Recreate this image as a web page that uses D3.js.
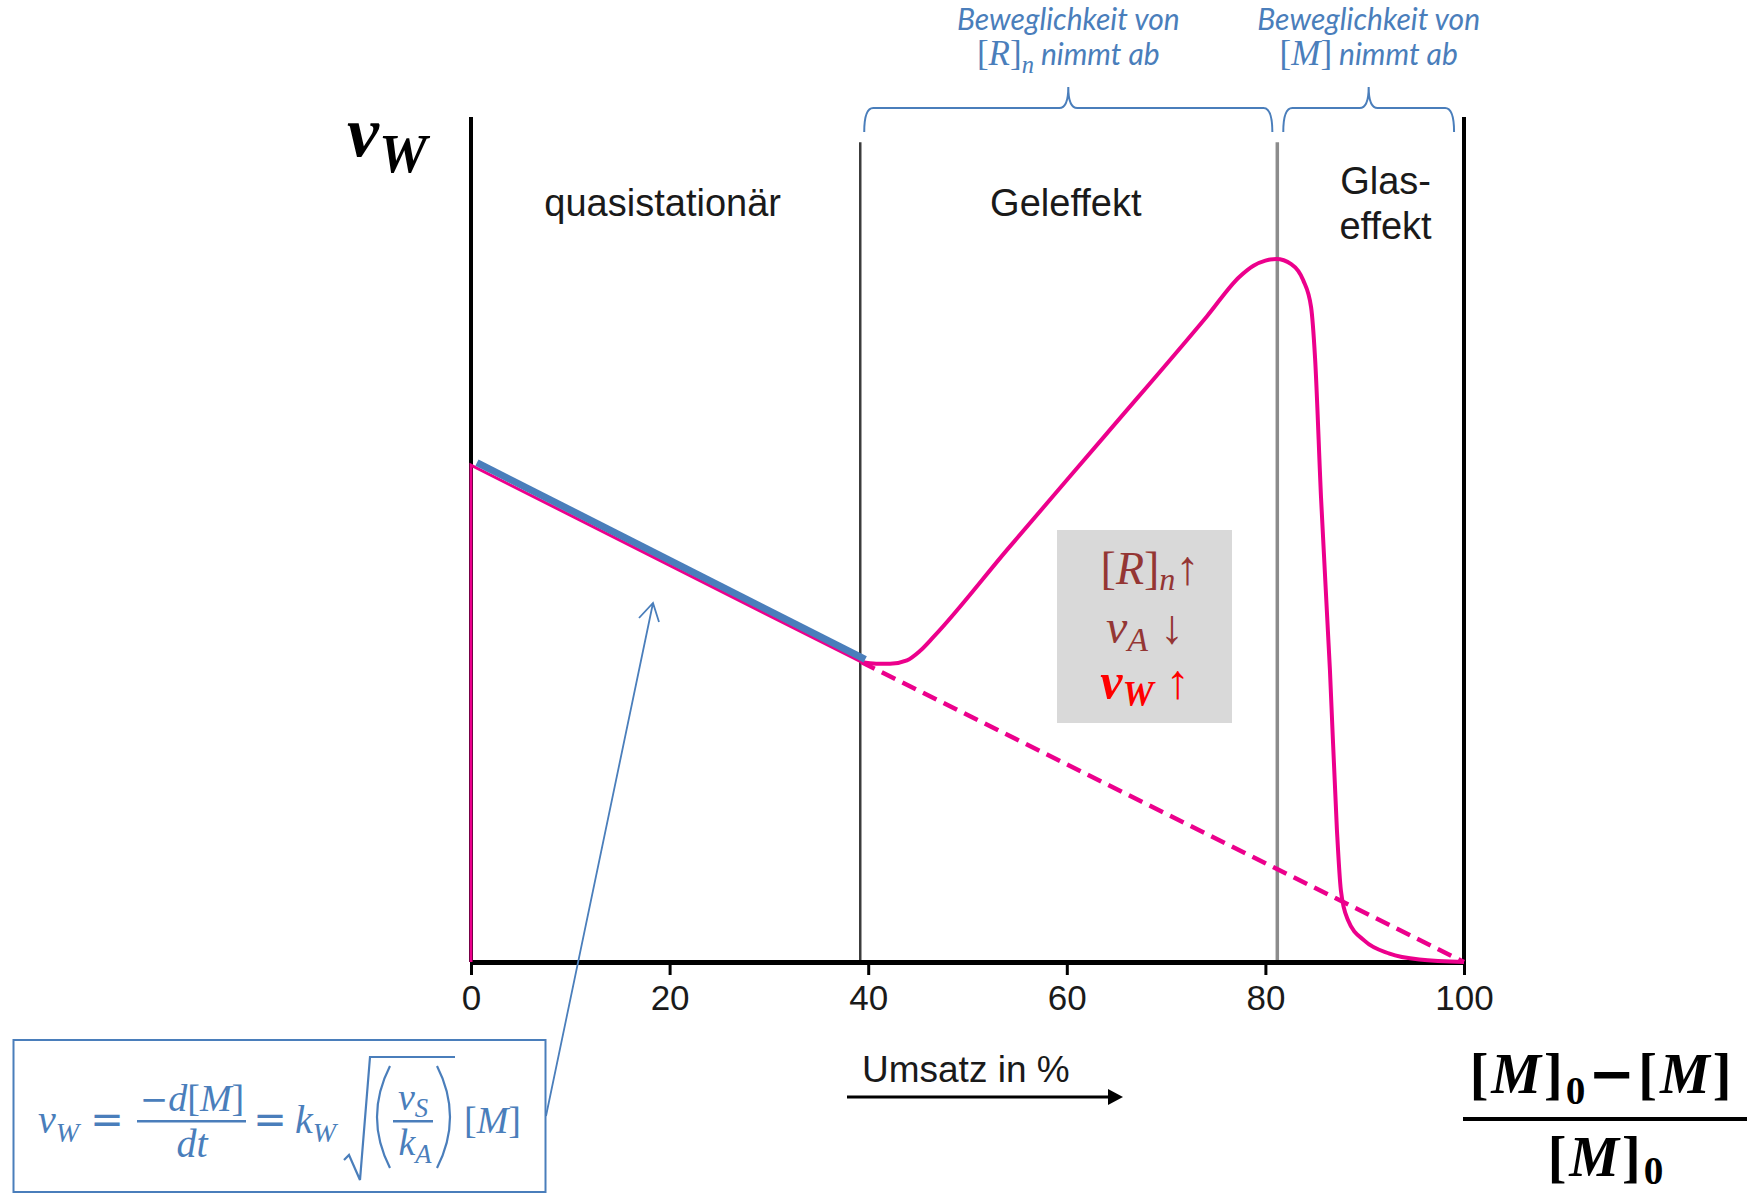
<!DOCTYPE html>
<html>
<head>
<meta charset="utf-8">
<script src="https://cdn.jsdelivr.net/npm/d3@7"></script>
<style>
body { margin: 0; background: #fff; }
</style>
</head>
<body>
<div id="chart"></div>
<script>
// values: x = Umsatz in %, y = reaction rate v_W (relative units, 0..100)
const xTicks = [0, 20, 40, 60, 80, 100];
const phaseBounds = [39.2, 81.2];
const phaseNames = [["quasistationär"], ["Geleffekt"], ["Glas-", "effekt"]];

// pink curve: start jump and quasistationary straight part
const rateStart = [[0, 0], [0, 58.8], [39.3, 35.5]];
// pink curve: gel effect and glass effect
const rateGel = [[39.3, 35.5], [40.8, 35.3], [42.2, 35.3], [43.9, 35.7], [45.2, 36.8], [46.6, 38.5],
  [54.0, 48.8], [64.0, 62.5], [74.1, 76.4], [77.4, 81.1], [78.8, 82.4], [80.0, 83.0], [81.1, 83.2], [82.6, 82.6],
  [83.8, 80.7], [84.6, 77.5], [85.0, 71.5], [85.6, 55.0], [86.5, 34.5], [87.2, 15.7], [87.6, 8.5],
  [88.3, 5.0], [90.0, 2.5], [92.5, 1.0], [95.5, 0.3], [100, 0]];
// dashed continuation without gel effect
const rateIdeal = [[39.3, 35.5], [100, 0]];
// blue highlighted part (formula valid)
const rateFit = [[0.6, 59.1], [39.7, 35.8]];

const mathFont = "'Liberation Serif', 'DejaVu Serif', serif";
const sansFont = "'Liberation Sans', Arial, sans-serif";
const noteFont = "Lato, 'Open Sans', sans-serif";
const blue = "#4a7ebb", pink = "#ec008c", darkRed = "#943634";

const svg = d3.select("#chart").append("svg")
  .attr("width", 1750)
  .attr("height", 1196);

const x = d3.scaleLinear().domain([0, 100]).range([471, 1464]);
const y = d3.scaleLinear().domain([0, 100]).range([962, 117]);

// text made of pieces (italic, subscripts...) in one <text>
function mathText(g, px, py, anchor, size, parts, attrs, subShift) {
  const t = g.append("text")
    .attr("x", px).attr("y", py)
    .attr("text-anchor", anchor)
    .attr("font-family", mathFont)
    .attr("font-size", size);
  Object.entries(attrs || {}).forEach(([k, v]) => t.attr(k, v));
  let shift = 0;
  parts.forEach(p => {
    const target = p.sub ? size * (subShift || 0.28) : 0;
    const ts = t.append("tspan").text(p.t)
      .attr("dy", target - shift)
      .attr("font-size", p.sub ? size * 0.7 : size);
    if (p.it) ts.attr("font-style", "italic");
    if (p.font) ts.attr("font-family", p.font);
    if (p.fs) ts.attr("font-size", p.fs);
    if (p.thin) ts.attr("font-weight", "normal");
    shift = target;
  });
  return t;
}

// phase separators
svg.selectAll(".phase").data(phaseBounds).join("line")
  .attr("class", "phase")
  .attr("x1", d => x(d)).attr("x2", d => x(d))
  .attr("y1", y(97)).attr("y2", y(0))
  .attr("stroke", (d, i) => i == 0 ? "#3c3c3c" : "#8c8c8c")
  .attr("stroke-width", (d, i) => i == 0 ? 2.5 : 3.5);

// left and right frame
svg.selectAll(".frame").data([0, 100]).join("line")
  .attr("class", "frame")
  .attr("x1", d => x(d)).attr("x2", d => x(d))
  .attr("y1", y(100)).attr("y2", y(0))
  .attr("stroke", "#000")
  .attr("stroke-width", 4);

// X axis
const xAxis = svg.append("g")
  .attr("transform", `translate(0,${y(0)})`)
  .call(d3.axisBottom(x).tickValues(xTicks).tickSize(13).tickSizeOuter(0).tickPadding(10));
xAxis.select(".domain").attr("stroke", "#000").attr("stroke-width", 5);
xAxis.selectAll(".tick line").attr("stroke", "#000").attr("stroke-width", 3);
xAxis.selectAll(".tick text")
  .attr("font-family", sansFont)
  .attr("font-size", 35)
  .attr("fill", "#1a1a1a");

// phase names, centred in each phase
const edges = [0, ...phaseBounds, 100];
phaseNames.forEach((lines, i) => {
  const cx = x((edges[i] + edges[i + 1]) / 2 + (i == 2 ? 1.5 : -0.3));
  const t = svg.append("text")
    .attr("text-anchor", "middle")
    .attr("font-family", sansFont)
    .attr("font-size", 38)
    .attr("fill", "#1a1a1a");
  lines.forEach((s, j) => {
    t.append("tspan").attr("x", cx).attr("y", 216 - (lines.length - 1) * 22 + j * 45).text(s);
  });
});

const line = d3.line().x(d => x(d[0])).y(d => y(d[1]));

// dashed pink
svg.append("path")
  .datum(rateIdeal)
  .attr("fill", "none")
  .attr("stroke", pink)
  .attr("stroke-width", 4.5)
  .attr("stroke-dasharray", "15,8")
  .attr("d", line);

// pink start
svg.append("path")
  .datum(rateStart)
  .attr("fill", "none")
  .attr("stroke", pink)
  .attr("stroke-width", 3)
  .attr("d", line);

// pink gel / glass effect
svg.append("path")
  .datum(rateGel)
  .attr("fill", "none")
  .attr("stroke", pink)
  .attr("stroke-width", 4)
  .attr("d", d3.line().x(d => x(d[0])).y(d => y(d[1])).curve(d3.curveMonotoneX));

// blue highlight
svg.append("path")
  .datum(rateFit)
  .attr("fill", "none")
  .attr("stroke", blue)
  .attr("stroke-width", 7)
  .attr("d", line);

// v_W label on the y axis
mathText(svg, 347, 156, "start", 72, [
  {t: "v", it: true}, {t: "W", it: true, sub: true, fs: 54}
], {"font-weight": "bold", fill: "#000"}, 0.22);

// gray box
svg.append("rect")
  .attr("x", 1057).attr("y", 530)
  .attr("width", 175).attr("height", 193)
  .attr("fill", "#d9d9d9");
mathText(svg, 1150, 584, "middle", 46, [
  {t: "["}, {t: "R", it: true}, {t: "]"}, {t: "n", it: true, sub: true},
  {t: "↑", fs: 48}
], {fill: darkRed}, 0.14);
mathText(svg, 1145, 643, "middle", 48, [
  {t: "v", it: true}, {t: "A", it: true, sub: true}, {t: " ↓", fs: 48}
], {fill: darkRed}, 0.16);
mathText(svg, 1145, 698, "middle", 50, [
  {t: "v", it: true}, {t: "W", it: true, sub: true}, {t: " ↑", fs: 48, thin: true}
], {fill: "#ff0000", "font-weight": "bold"}, 0.16);

// braces and notes on top
const braces = [[phaseBounds[0] + 0.4, phaseBounds[1] - 0.5], [phaseBounds[1] + 0.6, 99]];
const notes = [
  [{t: "["}, {t: "R", it: true}, {t: "]"}, {t: "n", it: true, sub: true}, {t: " nimmt ab", it: true, font: noteFont, fs: 30}],
  [{t: "["}, {t: "M", it: true}, {t: "]"}, {t: " nimmt ab", it: true, font: noteFont, fs: 30}]
];
braces.forEach((b, i) => {
  const x0 = x(b[0]), x1 = x(b[1]), xm = (x0 + x1) / 2;
  const yb = 132, yh = 108, yt = 87;
  svg.append("path")
    .attr("fill", "none")
    .attr("stroke", blue)
    .attr("stroke-width", 2)
    .attr("d", `M${x0},${yb} Q${x0},${yh} ${x0 + 9},${yh} L${xm - 9},${yh} Q${xm},${yh} ${xm},${yt}` +
      ` Q${xm},${yh} ${xm + 9},${yh} L${x1 - 9},${yh} Q${x1},${yh} ${x1},${yb}`);
  svg.append("text")
    .attr("x", xm).attr("y", 30)
    .attr("text-anchor", "middle")
    .attr("font-family", noteFont)
    .attr("font-style", "italic")
    .attr("font-size", 30)
    .attr("fill", blue)
    .text("Beweglichkeit von");
  mathText(svg, xm, 65, "middle", 35, notes[i], {fill: blue}, 0.22);
});

// formula box with pointer
const fg = svg.append("g").attr("fill", blue);
fg.append("rect")
  .attr("x", 13.5).attr("y", 1040)
  .attr("width", 532).attr("height", 152)
  .attr("fill", "none")
  .attr("stroke", blue)
  .attr("stroke-width", 2);
svg.append("path")
  .attr("fill", "none")
  .attr("stroke", blue)
  .attr("stroke-width", 1.8)
  .attr("d", "M546,1116 L653,603 M639,618 L653,603 L659,622");

mathText(fg, 38, 1133, "start", 40, [{t: "v", it: true}, {t: "W", it: true, sub: true}], {}, 0.22);
fg.append("text").attr("x", 107).attr("y", 1133).attr("text-anchor", "middle")
  .attr("font-family", "'DejaVu Sans', sans-serif").attr("font-size", 40).text("=");
mathText(fg, 192, 1111, "middle", 38, [{t: "−", font: "'DejaVu Sans', sans-serif", fs: 34}, {t: "d", it: true}, {t: "["}, {t: "M", it: true}, {t: "]"}]);
fg.append("rect").attr("x", 137).attr("y", 1120).attr("width", 109).attr("height", 2.5);
mathText(fg, 192, 1157, "middle", 40, [{t: "dt", it: true}]);
fg.append("text").attr("x", 270).attr("y", 1133).attr("text-anchor", "middle")
  .attr("font-family", "'DejaVu Sans', sans-serif").attr("font-size", 40).text("=");
mathText(fg, 295, 1133, "start", 40, [{t: "k", it: true}, {t: "W", it: true, sub: true}], {}, 0.22);
svg.append("path")
  .attr("fill", "none").attr("stroke", blue).attr("stroke-width", 2.2)
  .attr("d", "M344,1160 L349,1155 L360,1180 L370,1057 L455,1057" +
    " M390,1066 Q364,1117 390,1168 M437,1066 Q463,1117 437,1168");
mathText(fg, 413, 1110, "middle", 38, [{t: "v", it: true}, {t: "S", it: true, sub: true}], {}, 0.18);
fg.append("rect").attr("x", 393).attr("y", 1120).attr("width", 40).attr("height", 2.5);
mathText(fg, 415, 1155, "middle", 38, [{t: "k", it: true}, {t: "A", it: true, sub: true}], {}, 0.2);
mathText(fg, 464, 1133, "start", 38, [{t: "["}, {t: "M", it: true}, {t: "]"}]);

// x axis caption with arrow
svg.append("text")
  .attr("x", 862).attr("y", 1082)
  .attr("font-family", sansFont)
  .attr("font-size", 37)
  .attr("fill", "#1a1a1a")
  .text("Umsatz in %");
svg.append("line")
  .attr("x1", 847).attr("x2", 1110)
  .attr("y1", 1097).attr("y2", 1097)
  .attr("stroke", "#000").attr("stroke-width", 3);
svg.append("path")
  .attr("d", "M1108,1089 L1123,1097 L1108,1105 Z")
  .attr("fill", "#000");

// conversion definition bottom right
mathText(svg, 1602, 1093, "middle", 56, [
  {t: "["}, {t: "M", it: true}, {t: "]"}, {t: "0", sub: true}, {t: "−", font: "'DejaVu Sans', sans-serif"},
  {t: "["}, {t: "M", it: true}, {t: "]"}
], {"font-weight": "bold", fill: "#000", "letter-spacing": 3}, 0.2);
svg.append("rect")
  .attr("x", 1463).attr("y", 1117)
  .attr("width", 284).attr("height", 4)
  .attr("fill", "#000");
mathText(svg, 1607, 1176, "middle", 56, [
  {t: "["}, {t: "M", it: true}, {t: "]"}, {t: "0", sub: true}
], {"font-weight": "bold", fill: "#000", "letter-spacing": 3}, 0.14);
</script>
</body>
</html>
